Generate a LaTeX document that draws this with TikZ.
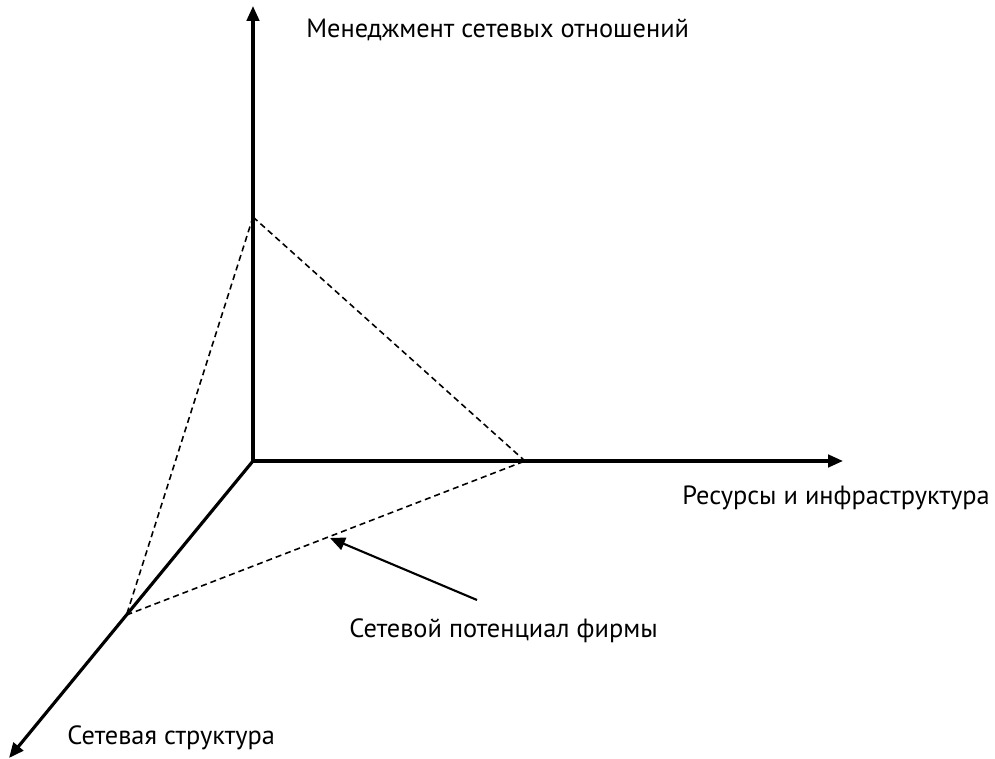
\documentclass[tikz,border=0pt]{standalone}
\usepackage{fontspec}
\setmainfont{PT Sans}
\usetikzlibrary{arrows.meta,positioning}

\begin{document}
\begin{tikzpicture}[
  x=0.02cm, y=-0.02cm,
  axis/.style={-{Triangle[length=0.3cm,width=0.25cm]}, line width=1.8pt},
  proj/.style={line width=0.9pt, dash pattern=on 0.12cm off 0.08cm},
  ptr/.style={-{Triangle[length=0.3cm,width=0.26cm]}, line width=1.2pt},
  lbl/.style={font=\fontsize{15}{18}\selectfont, inner sep=0pt, anchor=base west},
]
\useasboundingbox (0,0) rectangle (995,759);

%% Axes
\coordinate (O) at (253,461);
\coordinate (ytip) at (253,6);
\coordinate (xtip) at (843,461);
\coordinate (ztip) at (9,758);

%% Points on the axes
\coordinate (py) at (253,217);
\coordinate (px) at (525,461);
\coordinate (pz) at (126.5,615);

\draw[axis] (O) -- (ytip);
\draw[axis] (O) -- (xtip);
\draw[axis] (O) -- (ztip);

%% Projection triangle
\draw[proj] (py) -- (px);
\draw[proj] (py) -- (pz);
\draw[proj] (pz) -- (px);

%% Labels
\node[lbl] (lman) at (306,38) {Менеджмент сетевых отношений};
\node[lbl] (lres) at (682,505) {Ресурсы и инфраструктура};
\node[lbl] (lpot) at (349,638) {Сетевой потенциал фирмы};
\node[lbl] (lstr) at (67,745) {Сетевая структура};

%% Pointer to the triangle
\coordinate (ptail) at (477,600);
\coordinate (phead) at (330,538);
\draw[ptr] (ptail) -- (phead);

\end{tikzpicture}
\end{document}
